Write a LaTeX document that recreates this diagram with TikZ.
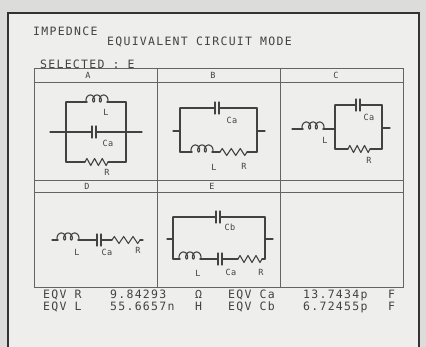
\documentclass[tikz,border=0pt]{standalone}
\usepackage{fontspec}
\newfontfamily\plotfont{DejaVu Sans Mono}[LetterSpace=11]
\newfontfamily\smallplot{DejaVu Sans Mono}[LetterSpace=4]
\definecolor{ink}{HTML}{424242}
\definecolor{gridc}{HTML}{646464}
\definecolor{framec}{HTML}{333333}
\definecolor{bgphoto}{HTML}{DCDCDA}
\definecolor{screen}{HTML}{EEEEEC}
% horizontal coil from x=#1 to x=#2 on wire y=#3
\newcommand{\coilH}[3]{%
  \draw[wire] plot[domain=0:3,samples=121,smooth,variable=\t]
    ({#1+(#2-#1)*\t/3-2.4*sin(\t*360)},{#3-7*(1-cos(\t*360))/2});}
% horizontal resistor zigzag
\newcommand{\resH}[3]{%
  \pgfmathsetmacro\rw{(#2-#1)/6}%
  \draw[wire] (#1,#3) -- ({#1+0.5*\rw},{#3-3.5}) -- ({#1+1.5*\rw},{#3+3.5})
    -- ({#1+2.5*\rw},{#3-3.5}) -- ({#1+3.5*\rw},{#3+3.5})
    -- ({#1+4.5*\rw},{#3-3.5}) -- ({#1+5.5*\rw},{#3+3.5}) -- (#2,#3);}
% capacitor plates at x=#1 and x=#2, centred on y=#3
\newcommand{\capH}[3]{%
  \draw[wire] (#1,{#3-6}) -- (#1,{#3+6}) (#2,{#3-6}) -- (#2,{#3+6});}
\begin{document}
\begin{tikzpicture}[x=1pt,y=-1pt,
  wire/.style={draw=ink,line width=1.1pt,line cap=round,line join=round},
  gridline/.style={draw=gridc,line width=0.8pt},
  framel/.style={draw=framec,line width=1.5pt},
  txt/.style={inner sep=0pt,anchor=base west,text=ink,font=\plotfont\fontsize{11.5}{11.5}\selectfont},
  hdr/.style={inner sep=0pt,text=ink,font=\smallplot\fontsize{8.5}{8.5}\selectfont},
  lbl/.style={inner sep=0pt,text=ink,font=\smallplot\fontsize{8.5}{8.5}\selectfont}]
\useasboundingbox (0,0) rectangle (426,347);
\fill[bgphoto] (0,0) rectangle (426,347);
\fill[screen] (8,13) rectangle (419,347);
\draw[framel] (8,347) -- (8,13) -- (419,13) -- (419,347);

% grid
\draw[gridline] (34,68) rectangle (403,287);
\draw[gridline] (34,82) -- (403,82);
\draw[gridline] (34,180) -- (403,180);
\draw[gridline] (34,192) -- (403,192);
\draw[gridline] (157,68) -- (157,287);
\draw[gridline] (280,68) -- (280,287);

% texts
\node[txt] (imp) at (33,36) {IMPEDNCE};
\node[txt] (title) at (107,46) {EQUIVALENT CIRCUIT MODE};
\node[txt] (sel) at (40,69) {SELECTED : E};
\node[hdr] (hA) at (88,75) {A};
\node[hdr] (hB) at (213,75) {B};
\node[hdr] (hC) at (336,75) {C};
\node[hdr] (hD) at (87,186) {D};
\node[hdr] (hE) at (212,186) {E};

% circuit A
\draw[wire] (66,102) -- (87,102) (107,102) -- (126,102);
\coilH{87}{107}{102}
\draw[wire] (66,102) -- (66,162) (126,102) -- (126,162);
\draw[wire] (50,132) -- (92,132) (96,132) -- (142,132);
\capH{92}{96}{132}
\draw[wire] (66,162) -- (85,162) (108,162) -- (126,162);
\resH{85}{108}{162}
\node[lbl] (aL) at (106,112) {L};
\node[lbl] (aCa) at (108,143) {Ca};
\node[lbl] (aR) at (107,172) {R};

% circuit B
\draw[wire] (180,108) -- (215,108) (219,108) -- (257,108);
\capH{215}{219}{108}
\draw[wire] (180,108) -- (180,152) (257,108) -- (257,152);
\draw[wire] (173,131) -- (180,131) (257,131) -- (265,131);
\draw[wire] (180,152) -- (192,152) (212,152) -- (220,152) (247,152) -- (257,152);
\coilH{192}{212}{152}
\resH{220}{247}{152}
\node[lbl] (bCa) at (232,120) {Ca};
\node[lbl] (bL) at (214,167) {L};
\node[lbl] (bR) at (244,166) {R};

% circuit C
\draw[wire] (292,129) -- (303,129) (323,129) -- (335,129);
\coilH{303}{323}{129}
\draw[wire] (335,105) -- (335,149) (382,105) -- (382,149);
\draw[wire] (335,105) -- (356,105) (360,105) -- (382,105);
\capH{356}{360}{105}
\draw[wire] (335,149) -- (348,149) (370,149) -- (382,149);
\resH{348}{370}{149}
\draw[wire] (382,128) -- (390,128);
\node[lbl] (cCa) at (369,117) {Ca};
\node[lbl] (cL) at (325,140) {L};
\node[lbl] (cR) at (369,160) {R};

% circuit D
\draw[wire] (52,240) -- (58,240) (78,240) -- (97,240) (101,240) -- (112,240);
\coilH{58}{78}{240}
\capH{97}{101}{240}
\resH{112}{140}{240}
\draw[wire] (140,240) -- (143,240);
\node[lbl] (dL) at (77,252) {L};
\node[lbl] (dCa) at (107,252) {Ca};
\node[lbl] (dR) at (138,250) {R};

% circuit E
\draw[wire] (173,217) -- (216,217) (220,217) -- (265,217);
\capH{216}{220}{217}
\draw[wire] (173,217) -- (173,259) (265,217) -- (265,259);
\draw[wire] (167,239) -- (173,239) (265,239) -- (273,239);
\draw[wire] (173,259) -- (180,259) (200,259) -- (218,259) (222,259) -- (238,259) (262,259) -- (265,259);
\coilH{180}{200}{259}
\capH{218}{222}{259}
\resH{238}{262}{259}
\node[lbl] (eCb) at (230,227) {Cb};
\node[lbl] (eL) at (198,273) {L};
\node[lbl] (eCa) at (231,272) {Ca};
\node[lbl] (eR) at (261,272) {R};

% values
\node[txt] (r1a) at (43,299) {EQV R};
\node[txt] (r1b) at (110,299) {9.84293};
\node[txt] (r1c) at (195,299) {Ω};
\node[txt] (r1d) at (228,299) {EQV Ca};
\node[txt] (r1e) at (303,299) {13.7434p};
\node[txt] (r1f) at (388,299) {F};
\node[txt] (r2a) at (43,311) {EQV L};
\node[txt] (r2b) at (110,311) {55.6657n};
\node[txt] (r2c) at (195,311) {H};
\node[txt] (r2d) at (228,311) {EQV Cb};
\node[txt] (r2e) at (303,311) {6.72455p};
\node[txt] (r2f) at (388,311) {F};
\end{tikzpicture}
\end{document}
